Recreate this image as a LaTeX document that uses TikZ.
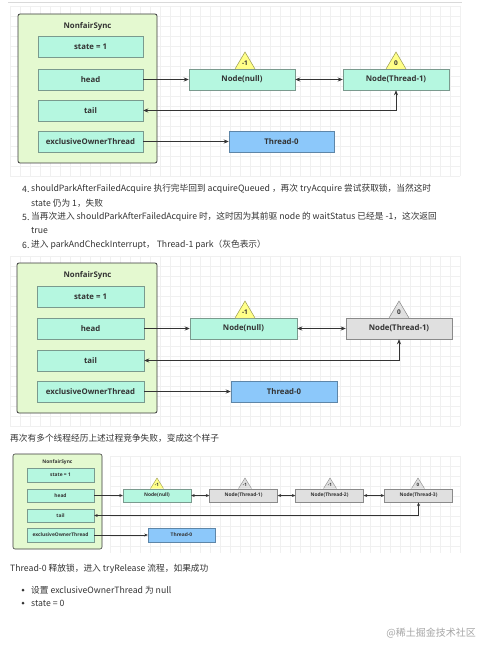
\documentclass[tikz,border=0pt]{standalone}
\usepackage{fontspec}
\setmainfont{Open Sans}
\newfontfamily\cjk{Noto Sans CJK SC}
\usetikzlibrary{arrows.meta}
\definecolor{outerfill}{HTML}{E4F9D0}
\definecolor{outerdraw}{HTML}{3A3A3A}
\definecolor{aqua}{HTML}{B5F7E0}
\definecolor{aquadraw}{HTML}{7A9A8E}
\definecolor{bluefill}{HTML}{8CC8FA}
\definecolor{bluedraw}{HTML}{5E86A8}
\definecolor{grayfill}{HTML}{E0E0E0}
\definecolor{graydraw}{HTML}{8A8A8A}
\definecolor{yel}{HTML}{FFFF88}
\definecolor{yeldraw}{HTML}{9A9A50}
\definecolor{txt}{HTML}{333333}
\definecolor{gridc}{HTML}{F0F0F0}
\tikzset{
  outerbox/.style={draw=outerdraw, fill=outerfill, line width=0.8pt, rounded corners=2pt},
  fieldbox/.style={draw=aquadraw, fill=aqua, line width=0.5pt, minimum width=105pt, minimum height=21pt, inner sep=0pt, font=\fontsize{7.8}{9}\selectfont\bfseries, text=txt},
  nodebox/.style={fieldbox, minimum width=106pt},
  graybox/.style={nodebox, draw=graydraw, fill=grayfill},
  bluebox/.style={fieldbox, draw=bluedraw, fill=bluefill},
  sfield/.style={draw=aquadraw, fill=aqua, line width=0.4pt, minimum width=67pt, minimum height=13.5pt, inner sep=0pt, font=\fontsize{4.9}{6}\selectfont\bfseries, text=txt},
  snode/.style={sfield, minimum width=68pt},
  sgray/.style={snode, draw=graydraw, fill=grayfill},
  sblue/.style={sfield, draw=bluedraw, fill=bluefill},
  arr/.style={draw=txt, line width=0.6pt, -{Stealth[length=5pt,width=4pt]}},
  arrb/.style={draw=txt, line width=0.6pt, {Stealth[length=5pt,width=4pt]}-{Stealth[length=5pt,width=4pt]}},
  sarr/.style={draw=txt, line width=0.45pt, -{Stealth[length=3.5pt,width=3pt]}},
  sarrb/.style={draw=txt, line width=0.45pt, {Stealth[length=3.5pt,width=3pt]}-{Stealth[length=3.5pt,width=3pt]}},
  para/.style={anchor=west, inner sep=0pt, text=txt, font=\cjk\fontsize{8.7}{11}\selectfont},
  title/.style={inner sep=0pt, text=txt, font=\fontsize{7.8}{9}\selectfont\bfseries},
  stitle/.style={inner sep=0pt, text=txt, font=\fontsize{4.9}{6}\selectfont\bfseries},
  tri/.style={line width=0.5pt},
  trilabel/.style={inner sep=0pt, text=txt, font=\fontsize{6.5}{7}\selectfont\bfseries},
  strilabel/.style={inner sep=0pt, text=txt, font=\fontsize{4.5}{5}\selectfont\bfseries}
}
\begin{document}
\begin{tikzpicture}[x=1pt,y=-1pt]
\useasboundingbox (0,0) rectangle (492,655);
\fill[white] (0,0) rectangle (492,655);
% top border line
\draw[black!15, line width=0.6pt] (8,2) -- (462,2);
% grids
\foreach \gx in {10,20,...,460} {\draw[gridc, line width=0.35pt] (\gx,6) -- (\gx,176);}
\foreach \gy in {6,16,...,176} {\draw[gridc, line width=0.35pt] (10,\gy) -- (460,\gy);}
\foreach \gx in {10,20,...,460} {\draw[gridc, line width=0.35pt] (\gx,256) -- (\gx,426);}
\foreach \gy in {256,266,...,426} {\draw[gridc, line width=0.35pt] (10,\gy) -- (460,\gy);}
\foreach \gx in {110,120,...,460} {\draw[gridc, line width=0.35pt] (\gx,456) -- (\gx,553);}
\foreach \gy in {456,466,...,546} {\draw[gridc, line width=0.35pt] (110,\gy) -- (460,\gy);}

% ================= Diagram 1 =================
\draw[outerbox] (18,14) rectangle (157,163);
\node[title] (t1title) at (87.5,26) {NonfairSync};
\node[fieldbox] (s1) at (90.5,47) {state = 1};
\node[fieldbox] (h1) at (90.5,79.5) {head};
\node[fieldbox] (ta1) at (90.5,110.5) {tail};
\node[fieldbox] (e1) at (90.5,141.5) {exclusiveOwnerThread};
\node[nodebox] (n1) at (242,79.5) {Node(null)};
\node[nodebox] (m1) at (396,79.5) {Node(Thread-1)};
\node[bluebox] (th1) at (281.5,141.5) {Thread-0};
\draw[tri, draw=yeldraw, fill=yel] (235,69) -- (245,52) -- (255,69);
\node[trilabel] (l1a) at (245,63.5) {-1};
\draw[tri, draw=yeldraw, fill=yel] (386,69) -- (396,52) -- (406,69);
\node[trilabel] (l1b) at (396,63.5) {0};
\draw[arr] (h1.east) -- (n1.west);
\draw[arrb] (n1.east) -- (m1.west);
\draw[arrb] (m1.south) |- (ta1.east);
\draw[arr] (e1.east) -- (th1.west);

% ================= Text block 1 =================
\node[para] (p1n) at (22,189) {4.};
\node[para] (p1) at (31,189) {shouldParkAfterFailedAcquire 执行完毕回到 acquireQueued ，再次 tryAcquire 尝试获取锁，当然这时};
\node[para] (p1b) at (31,203) {state 仍为 1，失败};
\node[para] (p2n) at (22,217) {5.};
\node[para] (p2) at (31,217) {当再次进入 shouldParkAfterFailedAcquire 时，这时因为其前驱 node 的 waitStatus 已经是 -1，这次返回};
\node[para] (p2b) at (31,231) {true};
\node[para] (p3n) at (22,245) {6.};
\node[para] (p3) at (31,245) {进入 parkAndCheckInterrupt， Thread-1 park（灰色表示）};

% ================= Diagram 2 =================
\draw[outerbox] (17,263) rectangle (157,413);
\node[title] (t2title) at (87.5,275) {NonfairSync};
\node[fieldbox, minimum width=107pt] (s2) at (90.5,296.5) {state = 1};
\node[fieldbox, minimum width=107pt] (h2) at (90.5,328.5) {head};
\node[fieldbox, minimum width=107pt] (ta2) at (90.5,360.5) {tail};
\node[fieldbox, minimum width=107pt] (e2) at (90.5,391.5) {exclusiveOwnerThread};
\node[nodebox, minimum width=107pt] (n2) at (243.5,328.5) {Node(null)};
\node[graybox] (m2) at (399,328.5) {Node(Thread-1)};
\node[bluebox, minimum width=106pt] (th2) at (284,391.5) {Thread-0};
\draw[tri, draw=yeldraw, fill=yel] (235,318) -- (245,301) -- (255,318);
\node[trilabel] (l2a) at (245,312.5) {-1};
\draw[tri, draw=graydraw, fill=grayfill] (389,318) -- (399,301) -- (409,318);
\node[trilabel] (l2b) at (399,312.5) {0};
\draw[arr] (h2.east) -- (n2.west);
\draw[arrb] (n2.east) -- (m2.west);
\draw[arrb] (m2.south) |- (ta2.east);
\draw[arr] (e2.east) -- (th2.west);

% ================= Text 2 =================
\node[para] (q1) at (10,438) {再次有多个线程经历上述过程竞争失败，变成这个样子};

% ================= Diagram 3 =================
\draw[outerbox, line width=0.6pt] (13,454) rectangle (102,549);
\node[stitle] (t3title) at (57.5,462) {NonfairSync};
\node[sfield] (s3) at (60.5,475) {state = 1};
\node[sfield] (h3) at (60.5,495.5) {head};
\node[sfield] (ta3) at (60.5,515.5) {tail};
\node[sfield] (e3) at (60.5,535) {exclusiveOwnerThread};
\node[snode] (n3) at (157,495.5) {Node(null)};
\node[sgray] (a3) at (243.5,495.5) {Node(Thread-1)};
\node[sgray] (b3) at (329.5,495.5) {Node(Thread-2)};
\node[sgray] (c3) at (418.5,495.5) {Node(Thread-3)};
\node[sblue] (th3) at (181.5,535) {Thread-0};
\draw[tri, draw=yeldraw, fill=yel, line width=0.4pt] (150.5,488.5) -- (157,478) -- (163.5,488.5);
\node[strilabel] (l3a) at (157,485) {-1};
\draw[tri, draw=graydraw, fill=grayfill, line width=0.4pt] (238.5,488.5) -- (245,478) -- (251.5,488.5);
\node[strilabel] (l3b) at (245,485) {-1};
\draw[tri, draw=graydraw, fill=grayfill, line width=0.4pt] (323.5,488.5) -- (330,478) -- (336.5,488.5);
\node[strilabel] (l3c) at (330,485) {-1};
\draw[tri, draw=graydraw, fill=grayfill, line width=0.4pt] (411.5,488.5) -- (418,478) -- (424.5,488.5);
\node[strilabel] (l3d) at (418,485) {0};
\draw[sarr] (h3.east) -- (n3.west);
\draw[sarrb] (n3.east) -- (a3.west);
\draw[sarrb] (a3.east) -- (b3.west);
\draw[sarrb] (b3.east) -- (c3.west);
\draw[sarrb] (c3.south) |- (ta3.east);
\draw[sarr] (e3.east) -- (th3.west);

% ================= Text 3 =================
\node[para] (r1) at (10,569) {Thread-0 释放锁，进入 tryRelease 流程，如果成功};
\fill[txt] (23,590) circle (1.5);
\node[para] (r2) at (31,590) {设置 exclusiveOwnerThread 为 null};
\fill[txt] (23,603) circle (1.5);
\node[para] (r3) at (31,603) {state = 0};
\node[anchor=east, inner sep=0pt, text=black!35, font=\cjk\fontsize{10}{12}\selectfont] (wm) at (476,633) {@稀土掘金技术社区};
\end{tikzpicture}
\end{document}
